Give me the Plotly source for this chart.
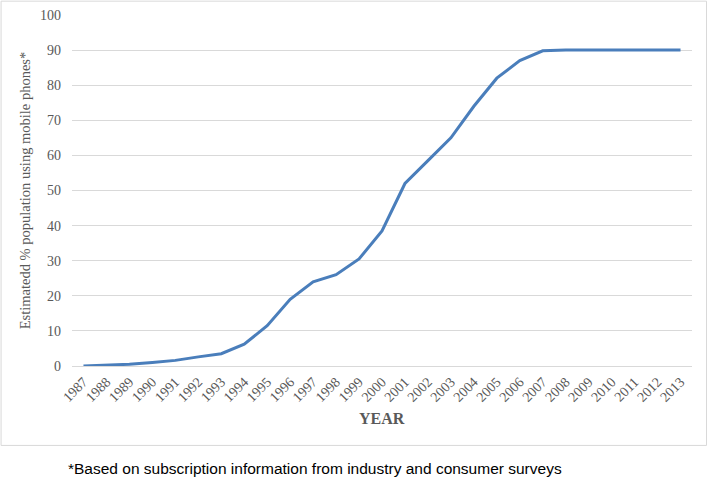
import plotly.graph_objects as go

years = [str(y) for y in range(1987, 2014)]
values = [0.0, 0.2, 0.5, 1.0, 1.6, 2.6, 3.5, 6.2, 11.5, 19.0, 24.0, 26.0, 30.5, 38.5,
          52.0, 58.5, 65.0, 74.0, 82.0, 87.0, 89.8, 90.0, 90.0, 90.0, 90.0, 90.0, 90.0]
y_ticks = list(range(0, 101, 10))

serif = "Liberation Serif"
gray = "#595959"

fig = go.Figure()
fig.add_trace(go.Scatter(x=years, y=values, mode="lines",
                         line=dict(color="#4A7EBB", width=3), showlegend=False))

fig.update_layout(
    width=708, height=482,
    margin=dict(l=72, r=15.5, t=15, b=116),
    paper_bgcolor="white", plot_bgcolor="white",
    xaxis=dict(type="category", range=[-0.5, len(years) - 0.5], automargin=False,
               tickangle=-45, showgrid=False, showline=False,
               ticks="", ticklabelstandoff=4,
               tickfont=dict(family=serif, size=14, color=gray)),
    yaxis=dict(range=[0, 100], tickvals=y_ticks, automargin=False, showgrid=True,
               gridcolor="#D9D9D9", gridwidth=1, zeroline=True, zerolinecolor="#D9D9D9",
               zerolinewidth=1, ticks="", ticklabelstandoff=10,
               tickfont=dict(family=serif, size=14, color=gray),
               title=dict(text="Estimatedd % population using mobile phones*",
                          font=dict(family=serif, size=14.5, color=gray), standoff=5)),
    annotations=[
        dict(text="<b>YEAR</b>", xref="paper", yref="paper", x=0.5, y=-0.149,
             xanchor="center", yanchor="middle", showarrow=False,
             font=dict(family=serif, size=16, color=gray)),
        dict(text="*Based on subscription information from industry and consumer surveys",
             xref="paper", yref="paper", x=-0.01, y=-0.292, xanchor="left",
             yanchor="middle", showarrow=False,
             font=dict(family="Liberation Sans", size=15.5, color="black")),
    ],
    shapes=[dict(type="rect", xref="paper", yref="paper", x0=-0.1144, x1=1.0234,
                 y0=-0.2263, y1=1.0394, line=dict(color="#D9D9D9", width=1),
                 fillcolor="rgba(0,0,0,0)", layer="below")],
)

fig.write_html("out.html", config={"displayModeBar": False},
               post_script="document.body.style.margin='0';document.body.style.padding='0';")
